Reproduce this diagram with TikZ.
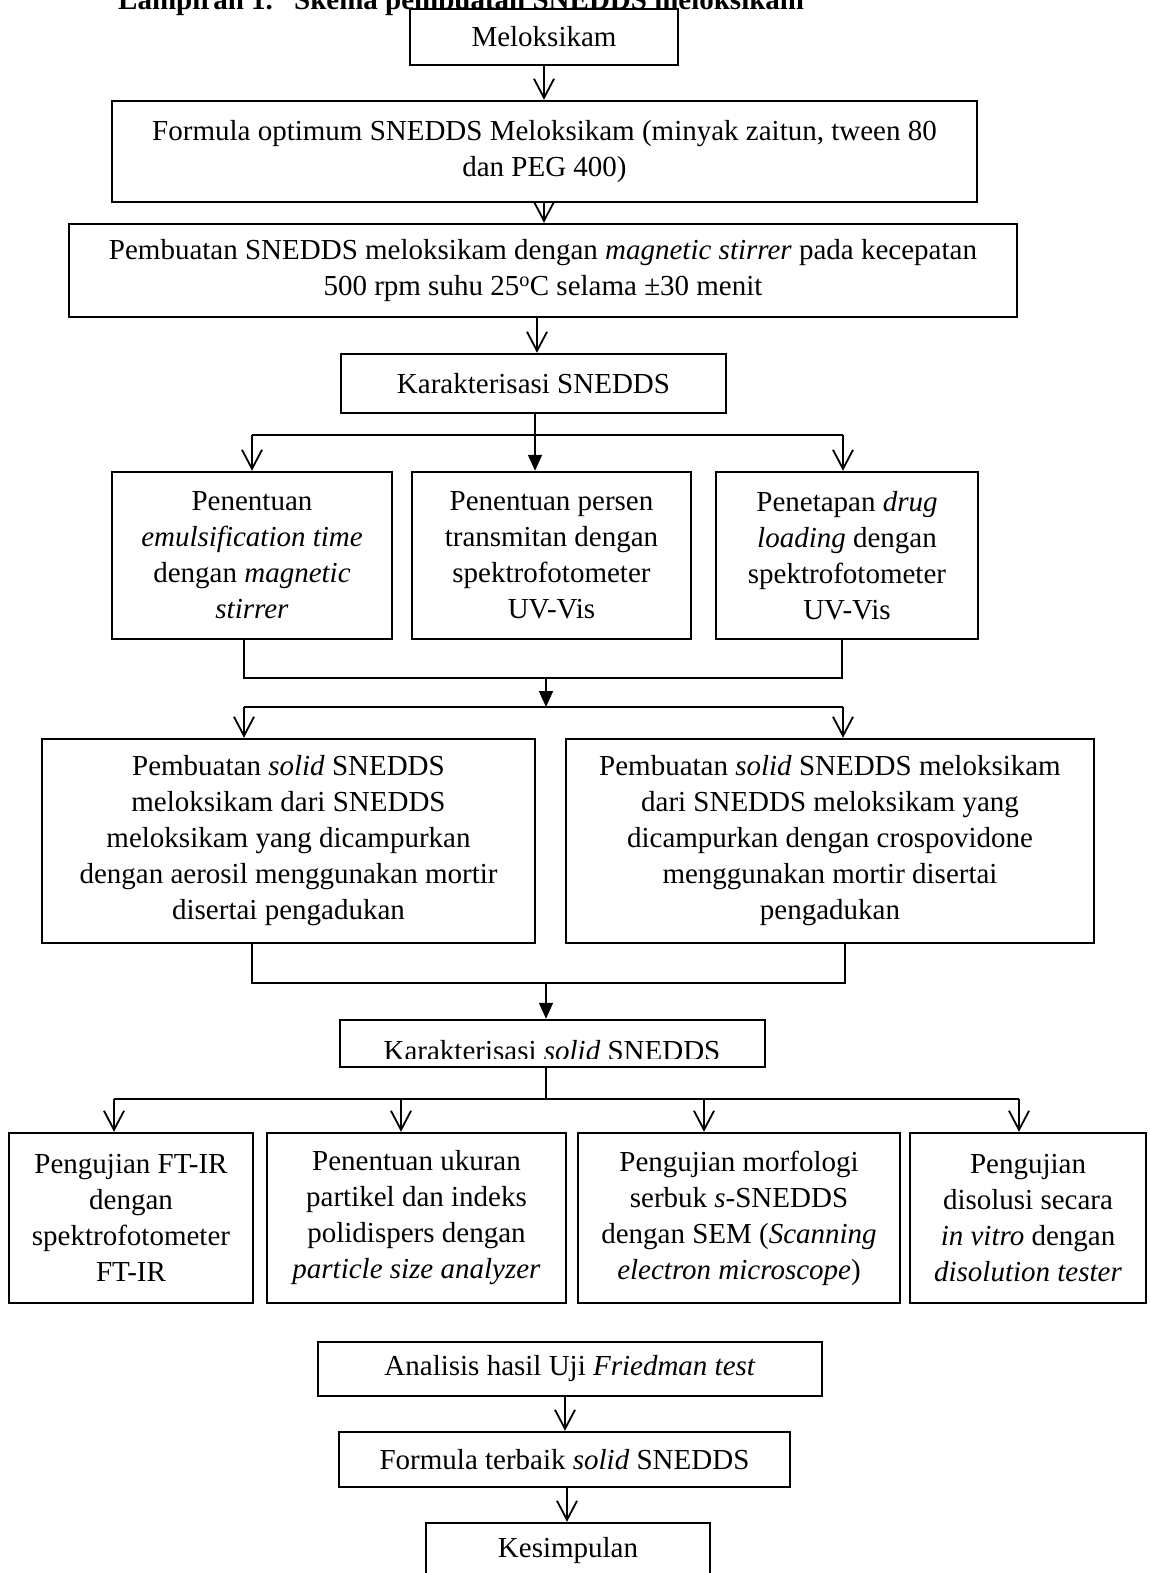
\documentclass[tikz,border=0pt]{standalone}
\usepackage{fontspec}
\setmainfont{Liberation Serif}
\usetikzlibrary{arrows.meta}
\begin{document}
\begin{tikzpicture}[x=1pt,y=-1pt,
  font=\fontsize{29}{36}\selectfont,
  box/.style={draw, line width=2.5pt, fill=white, inner sep=0pt, align=center},
  arr/.style={line width=1.8pt, -{Straight Barb[length=19pt,width=20pt,line width=1.8pt]}},
  arrf/.style={line width=1.8pt, -{Triangle[length=16pt,width=14pt]}},
  thinline/.style={line width=1.3pt}]
\useasboundingbox (0,0) rectangle (1149,1573);
% title (cut at top)
\node[anchor=base west, inner sep=0pt, font=\bfseries\fontsize{29}{36}\selectfont] (title) at (118,10) {Lampiran 1.\hspace{0.4em} Skema pembuatan SNEDDS meloksikam};
% boxes
\node[box, minimum width=268pt, minimum height=56pt] (melo) at (544,37) {Meloksikam};
\node[box, minimum width=865pt, minimum height=101pt] (form) at (544.5,151.5) {Formula optimum SNEDDS Meloksikam (minyak zaitun, tween 80\\dan PEG 400)};
\node[box, minimum width=948pt, minimum height=93pt] (pemb) at (543,270.5) {Pembuatan SNEDDS meloksikam dengan \textit{magnetic stirrer} pada kecepatan\\500 rpm suhu 25\textsuperscript{o}C selama ±30 menit};
\node[box, minimum width=385pt, minimum height=59pt] (kar) at (533.5,383.5) {Karakterisasi SNEDDS};
\node[box, minimum width=280pt, minimum height=167pt] (A) at (252,555.5) {Penentuan\\\textit{emulsification time}\\dengan \textit{magnetic}\\\textit{stirrer}};
\node[box, minimum width=279pt, minimum height=167pt] (B) at (551.5,555.5) {Penentuan persen\\transmitan dengan\\spektrofotometer\\UV-Vis};
\node[box, minimum width=262pt, minimum height=167pt] (C) at (847,555.5) {Penetapan \textit{drug}\\\textit{loading} dengan\\spektrofotometer\\UV-Vis};
\node[box, minimum width=493pt, minimum height=204pt] (D) at (288.5,841) {Pembuatan \textit{solid} SNEDDS\\meloksikam dari SNEDDS\\meloksikam yang dicampurkan\\dengan aerosil menggunakan mortir\\disertai pengadukan};
\node[box, minimum width=528pt, minimum height=204pt] (E) at (830,841) {Pembuatan \textit{solid} SNEDDS meloksikam\\dari SNEDDS meloksikam yang\\dicampurkan dengan crospovidone\\menggunakan mortir disertai\\pengadukan};
\node[box, minimum width=425pt, minimum height=47pt] (ks) at (552.5,1043.5) {};
\begin{scope}
  \clip (340,1020) rectangle (765,1058);
  \node[anchor=base, inner sep=0pt] (kstext) at (552,1060) {Karakterisasi \textit{solid} SNEDDS};
\end{scope}
\node[box, minimum width=244pt, minimum height=170pt] (F) at (131,1218) {Pengujian FT-IR\\dengan\\spektrofotometer\\FT-IR};
\node[box, minimum width=299pt, minimum height=170pt] (G) at (416.5,1218) {Penentuan ukuran\\partikel dan indeks\\polidispers dengan\\\textit{particle size analyzer}};
\node[box, minimum width=322pt, minimum height=170pt] (H) at (739,1218) {Pengujian morfologi\\serbuk \textit{s}-SNEDDS\\dengan SEM (\textit{Scanning}\\\textit{electron microscope})};
\node[box, minimum width=236pt, minimum height=170pt] (I) at (1028,1218) {Pengujian\\disolusi secara\\\textit{in vitro} dengan\\\textit{disolution tester}};
\node[box, minimum width=504pt, minimum height=54pt] (ana) at (570,1369) {Analisis hasil Uji \textit{Friedman test}};
\node[box, minimum width=451pt, minimum height=55pt] (ft) at (564.5,1459.5) {Formula terbaik \textit{solid} SNEDDS};
\node[box, minimum width=284pt, minimum height=55pt] (kes) at (568,1550.5) {Kesimpulan};
% top chain
\draw[arr] (melo.south) -- (melo.south |- form.north);
\draw[arr] (melo.south |- form.south) -- (melo.south |- pemb.north);
\draw[arr] (537,0 |- pemb.south) -- (537,0 |- kar.north);
% split to three
\coordinate (b1l) at (252,435);
\coordinate (b1r) at (843,435);
\coordinate (b1m) at (535,435);
\draw[thinline] (b1l) -- (b1r);
\draw[arrf] (b1m |- kar.south) -- (b1m |- B.north);
\draw[arr] (b1l) -- (b1l |- A.north);
\draw[arr] (b1r) -- (b1r |- C.north);
% merge three to two
\coordinate (m1) at (244,678);
\coordinate (m2) at (842,678);
\coordinate (m3) at (546,678);
\coordinate (s1) at (244,707);
\coordinate (s2) at (843,707);
\coordinate (s3) at (546,707);
\draw[thinline] (m1 |- A.south) -- (m1) -- (m2) -- (m2 |- C.south);
\draw[arrf] (m3) -- (s3);
\draw[thinline] (s1) -- (s2);
\draw[arr] (s1) -- (s1 |- D.north);
\draw[arr] (s2) -- (s2 |- E.north);
% merge two to ks
\coordinate (n1) at (252,983);
\coordinate (n2) at (845,983);
\coordinate (n3) at (546,983);
\draw[thinline] (n1 |- D.south) -- (n1) -- (n2) -- (n2 |- E.south);
\draw[arrf] (n3) -- (n3 |- ks.north);
% split to four
\coordinate (q0) at (546,1099);
\coordinate (q1) at (114,1099);
\coordinate (q2) at (401,1099);
\coordinate (q3) at (704,1099);
\coordinate (q4) at (1019,1099);
\draw[thinline] (q0 |- ks.south) -- (q0);
\draw[thinline] (q1) -- (q4);
\draw[arr] (q1) -- (q1 |- F.north);
\draw[arr] (q2) -- (q2 |- G.north);
\draw[arr] (q3) -- (q3 |- H.north);
\draw[arr] (q4) -- (q4 |- I.north);
% bottom chain
\draw[arr] (565,0 |- ana.south) -- (565,0 |- ft.north);
\draw[arr] (567,0 |- ft.south) -- (567,0 |- kes.north);
\end{tikzpicture}
\end{document}
